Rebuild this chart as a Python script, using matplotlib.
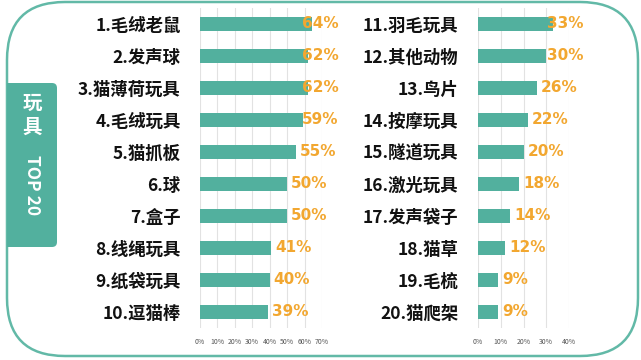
import matplotlib.pyplot as plt
from matplotlib.patches import FancyBboxPatch
from matplotlib.ticker import FuncFormatter

plt.rcParams['font.family'] = ['Noto Sans CJK SC', 'DejaVu Sans']

# 数据
left_names = ['1.毛绒老鼠', '2.发声球', '3.猫薄荷玩具', '4.毛绒玩具', '5.猫抓板',
              '6.球', '7.盒子', '8.线绳玩具', '9.纸袋玩具', '10.逗猫棒']
left_vals = [64, 62, 62, 59, 55, 50, 50, 41, 40, 39]
right_names = ['11.羽毛玩具', '12.其他动物', '13.鸟片', '14.按摩玩具', '15.隧道玩具',
               '16.激光玩具', '17.发声袋子', '18.猫草', '19.毛梳', '20.猫爬架']
right_vals = [33, 30, 26, 22, 20, 18, 14, 12, 9, 9]

teal = '#52b09e'
orange = '#f2a730'
frame = '#62b9a7'

W, H = 641, 360
fig = plt.figure(figsize=(W / 100, H / 100), dpi=100)

# fundo em pixels
bg = fig.add_axes([0, 0, 1, 1])
bg.set_xlim(0, W)
bg.set_ylim(H, 0)
bg.axis('off')
bg.add_patch(FancyBboxPatch((7, 2), 631, 354, boxstyle='round,pad=0,rounding_size=58',
                            fc='white', ec=frame, lw=1.8))
bg.add_patch(FancyBboxPatch((7, 83), 50, 164, boxstyle='round,pad=0,rounding_size=5',
                            fc=teal, ec='none'))
bg.add_patch(plt.Rectangle((7, 83), 8, 164, fc=teal, ec='none'))
bg.text(32, 103, '玩', color='white', fontsize=14, fontweight='heavy', ha='center', va='center')
bg.text(32, 127, '具', color='white', fontsize=14, fontweight='heavy', ha='center', va='center')
bg.text(32, 185, 'TOP 20', color='white', fontsize=12.5, fontweight='bold',
        ha='center', va='center', rotation=-90)


def draw(rect, names, vals, xmax, clamp):
    ax = fig.add_axes(rect)
    y = list(range(len(names)))
    ax.barh(y, vals, height=0.42, color=teal, zorder=2)
    ax.set_xlim(0, xmax)
    ax.set_ylim(len(names) - 0.5, -0.5)
    ax.set_xticks(range(0, xmax + 1, 10))
    ax.xaxis.set_major_formatter(FuncFormatter(lambda v, p: f'{int(v)}%'))
    ax.set_yticks(y)
    ax.set_yticklabels(names, fontsize=12.5, fontweight='heavy', color='#111111')
    ax.tick_params(axis='y', length=0, pad=14)
    ax.tick_params(axis='x', length=0, pad=7, labelsize=5, labelcolor='#555555')
    ax.grid(axis='x', color='#e2e2e2', lw=0.8, zorder=0)
    for s in ax.spines.values():
        s.set_visible(False)
    off = xmax / 122 * 4 if xmax == 70 else xmax / 91 * 4
    for i, v in enumerate(vals):
        ax.text(min(v + off, clamp), i, f'{v}%', color=orange, fontsize=11,
                fontweight='bold', ha='left', va='center', zorder=3,
                family=['DejaVu Sans'])
    return ax


draw([200 / W, 1 - 328 / H, 122 / W, 320 / H], left_names, left_vals, 70, 58.5)
draw([478 / W, 1 - 328 / H, 91 / W, 320 / H], right_names, right_vals, 40, 30.4)

plt.savefig('out.png', dpi=100)
